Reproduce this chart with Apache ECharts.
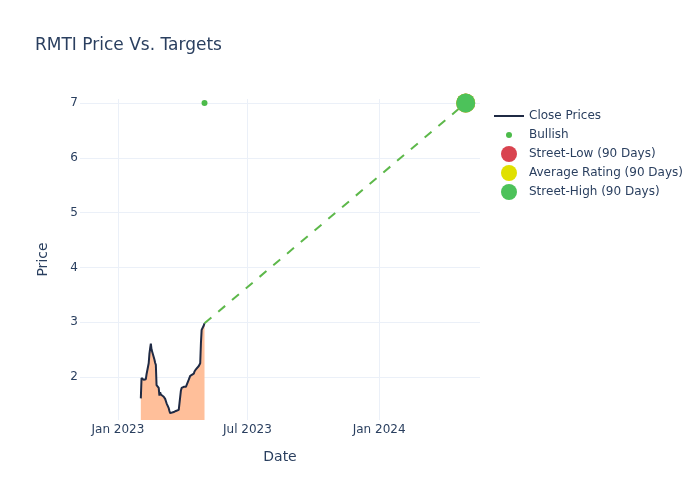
<!DOCTYPE html>
<html>
<head>
<meta charset="utf-8">
<script src="https://cdn.jsdelivr.net/npm/echarts@6/dist/echarts.min.js"></script>
<style>html,body{margin:0;padding:0;background:#fff}#c{width:700px;height:500px}</style>
</head>
<body>
<div id="c"></div>
<script>
// ---- data ----
var closeDates = ['2023-02-02','2023-02-03','2023-02-06','2023-02-07','2023-02-08','2023-02-09','2023-02-10','2023-02-13','2023-02-14','2023-02-15','2023-02-16','2023-02-17','2023-02-21','2023-02-22','2023-02-23','2023-02-24','2023-02-27','2023-02-28','2023-03-01','2023-03-02','2023-03-03','2023-03-06','2023-03-07','2023-03-08','2023-03-09','2023-03-10','2023-03-13','2023-03-14','2023-03-15','2023-03-16','2023-03-17','2023-03-20','2023-03-21','2023-03-22','2023-03-23','2023-03-24','2023-03-27','2023-03-28','2023-03-29','2023-03-30','2023-03-31','2023-04-03','2023-04-04','2023-04-05','2023-04-06','2023-04-10','2023-04-11','2023-04-12','2023-04-13','2023-04-14','2023-04-17','2023-04-18','2023-04-19','2023-04-20','2023-04-21','2023-04-24','2023-04-25','2023-04-26','2023-04-27','2023-04-28','2023-05-01','2023-05-02'];
var closePrices = [1.61,1.98,1.95,1.97,1.94,1.96,2.05,2.25,2.42,2.52,2.61,2.50,2.32,2.26,2.22,1.85,1.80,1.66,1.72,1.68,1.67,1.64,1.62,1.60,1.58,1.52,1.43,1.38,1.34,1.32,1.37,1.36,1.37,1.36,1.38,1.38,1.40,1.38,1.42,1.75,1.80,1.82,1.80,1.83,1.82,1.95,1.98,2.02,2.04,2.00,2.06,2.10,2.07,2.14,2.12,2.20,2.22,2.25,2.62,2.86,2.94,2.98];
var bullishDates = ['2023-05-02'];
var bullishValues = [7];
var targetDate = '2024-05-01';
var streetLow = 7;
var averageRating = 7;
var streetHigh = 7;
var xTicks = ['2023-01-01','2023-07-01','2024-01-01'];
var yTicks = [2,3,4,5,6,7];
var xRange = ['2022-11-09','2024-05-21'];
var yRange = [1.215, 7.073];

var MONTHS = ['Jan','Feb','Mar','Apr','May','Jun','Jul','Aug','Sep','Oct','Nov','Dec'];
var TXT = '#2a3f5f';
var FONT = 'DejaVu Sans';
var GRID = '#EBF0F8';

function ms(s){ return Date.parse(s + 'T00:00:00Z'); }
var closeData = closeDates.map(function(d,i){return [ms(d), closePrices[i]];});
var lastIdx = closeDates.length - 1;
var dashData = [[ms(closeDates[lastIdx]), closePrices[lastIdx]], [ms(targetDate), streetHigh]];
var xTickMs = xTicks.map(ms);

var chart = echarts.init(document.getElementById('c'), null, {renderer:'canvas'});

// circle legend icons are drawn left-aligned; place so centre sits at x=509, text at 529
function legendItem(name, left, top, w, h, icon, color){
  return {
    show:true, left:left, top:top, orient:'vertical', padding:0,
    itemWidth:w, itemHeight:h, itemGap:0, selectedMode:false,
    textStyle:{color:TXT, fontSize:12, fontFamily:FONT},
    data:[{name:name, icon:icon, itemStyle:{color:color, borderWidth:0, opacity:1}}]
  };
}

var option = {
  backgroundColor:'#fff',
  animation:false,
  title:{text:'RMTI Price Vs. Targets', left:30, top:32, textStyle:{color:TXT, fontSize:17, fontWeight:'normal', fontFamily:FONT}},
  legend:[
    legendItem('Close Prices', 494, 110, 30, 2, 'rect', '#1f2a44'),
    legendItem('Bullish', 506, 129, 30, 6, 'circle', '#4CBB4A'),
    legendItem('Street-Low (90 Days)', 501, 146, 30, 16, 'circle', '#D9434F'),
    legendItem('Average Rating (90 Days)', 501, 165, 30, 16, 'circle', '#E0E000'),
    legendItem('Street-High (90 Days)', 501, 184, 30, 16, 'circle', '#4CC25A')
  ],
  grid:{left:80, right:220, top:99, bottom:80, containLabel:false},
  xAxis:{
    type:'value', min:ms(xRange[0]), max:ms(xRange[1]),
    name:'Date', nameLocation:'middle', nameGap:30,
    nameTextStyle:{color:TXT, fontSize:14, fontFamily:FONT},
    axisLine:{show:false},
    axisTick:{show:false, customValues:xTickMs},
    axisLabel:{color:TXT, fontSize:12, fontFamily:FONT, margin:4,
      customValues:xTickMs,
      formatter:function(v){var d=new Date(v); return MONTHS[d.getUTCMonth()]+' '+d.getUTCFullYear();}},
    splitLine:{show:true, lineStyle:{color:GRID, width:1}}
  },
  yAxis:{
    type:'value', min:yRange[0], max:yRange[1],
    name:'Price', nameLocation:'middle', nameGap:30, nameRotate:90,
    nameTextStyle:{color:TXT, fontSize:14, fontFamily:FONT},
    axisLine:{show:false},
    axisTick:{show:false, customValues:yTicks},
    axisLabel:{color:TXT, fontSize:12, fontFamily:FONT, margin:2, customValues:yTicks},
    splitLine:{show:true, lineStyle:{color:GRID, width:1}}
  },
  series:[
    {name:'Close Prices', type:'line', data:closeData, showSymbol:false, symbol:'none',
     lineStyle:{color:'#1f2a44', width:2}, itemStyle:{color:'#1f2a44'},
     areaStyle:{color:'#FFBF9A', opacity:1, origin:'start'}, z:2},
    {name:'Target Line', type:'line', data:dashData, showSymbol:false, symbol:'none',
     lineStyle:{color:'#5DB84A', width:2, type:[9,9]}, z:3},
    {name:'Bullish', type:'scatter', data:bullishDates.map(function(d,i){return [ms(d), bullishValues[i]];}),
     symbolSize:6, itemStyle:{color:'#4CBB4A', opacity:1}, z:4},
    {name:'Street-Low (90 Days)', type:'scatter', data:[[ms(targetDate), streetLow]], symbolSize:19, itemStyle:{color:'#D9434F', opacity:1}, z:5},
    {name:'Average Rating (90 Days)', type:'scatter', data:[[ms(targetDate), averageRating]], symbolSize:19, itemStyle:{color:'#E0E000', opacity:1}, z:6},
    {name:'Street-High (90 Days)', type:'scatter', data:[[ms(targetDate), streetHigh]], symbolSize:19, itemStyle:{color:'#4CC25A', opacity:1}, z:7}
  ]
};
chart.setOption(option);
</script>
</body>
</html>
